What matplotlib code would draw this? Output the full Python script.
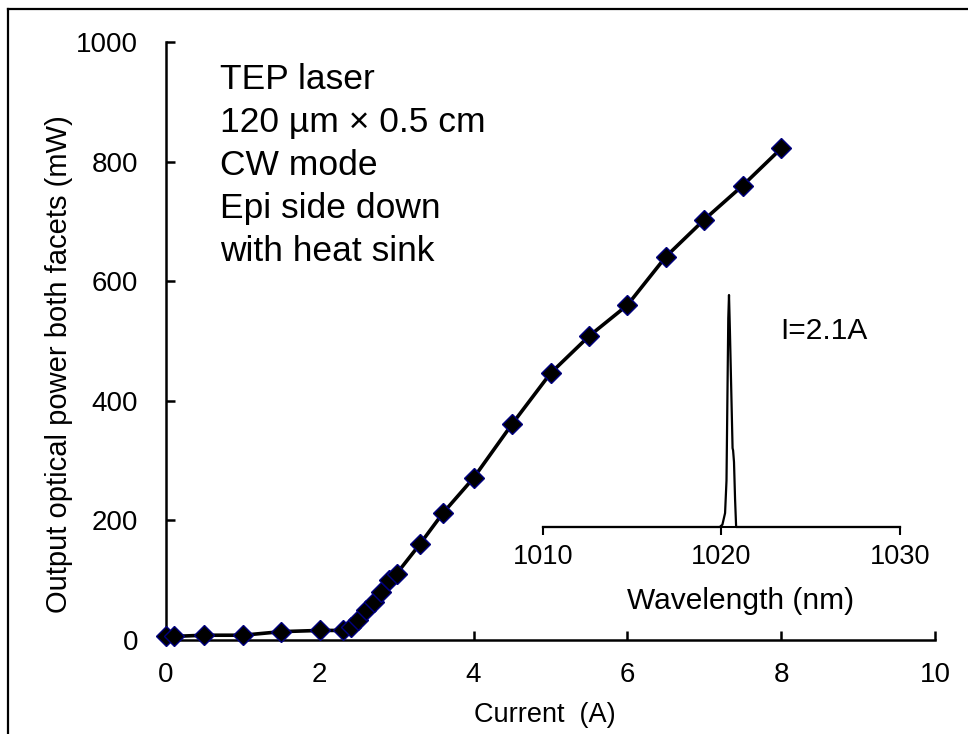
import matplotlib
matplotlib.use('Agg')
import matplotlib.pyplot as plt
from matplotlib.lines import Line2D

plt.rcParams['font.family'] = ['Liberation Sans', 'DejaVu Sans']

# L-I curve
current = [0, 0.1, 0.5, 1.0, 1.5, 2.0, 2.3, 2.4, 2.5, 2.6, 2.7, 2.8, 2.9, 3.0,
           3.3, 3.6, 4.0, 4.5, 5.0, 5.5, 6.0, 6.5, 7.0, 7.5, 8.0]
power = [6, 6, 8, 8, 14, 16, 16, 22, 33, 50, 64, 81, 100, 111,
         160, 212, 271, 361, 446, 508, 560, 641, 703, 760, 822]

# spectrum at I = 2.1 A (normalised intensity)
wavelength = [1010, 1019.9, 1020.05, 1020.2, 1020.28, 1020.38, 1020.42, 1020.47,
              1020.62, 1020.65, 1020.7, 1020.76, 1020.82, 1030]
intensity = [0, 0, 0.01, 0.06, 0.2, 0.9, 1.0, 0.85,
             0.34, 0.33, 0.28, 0.12, 0.0, 0]

x_ticks = [0, 2, 4, 6, 8, 10]
y_ticks = [0, 200, 400, 600, 800, 1000]
wl_ticks = [1010, 1020, 1030]
notes = ['TEP laser', '120 \u00b5m \u00d7 0.5 cm', 'CW mode', 'Epi side down', 'with heat sink']

W, H = 968, 734
fig = plt.figure(figsize=(W / 100, H / 100), dpi=100)

def px_axes(left, top, right, bottom):
    return fig.add_axes([left / W, 1 - bottom / H, (right - left) / W, (bottom - top) / H])

ax = px_axes(166, 42, 935, 640)
ax.plot(current, power, color='black', lw=2.6, marker='D', ms=10.5,
        mfc='black', mec='#000080', mew=1, clip_on=False, zorder=3)
ax.set_xlim(0, 10)
ax.set_ylim(0, 1000)
ax.set_xticks(x_ticks)
ax.set_yticks(y_ticks)
for s in ['top', 'right']:
    ax.spines[s].set_visible(False)
for s in ['left', 'bottom']:
    ax.spines[s].set_linewidth(1.8)
ax.tick_params(axis='both', direction='in', length=6.5, width=1.8, labelsize=20)
ax.tick_params(axis='y', pad=20)
ax.tick_params(axis='x', pad=16)
ax.set_xlabel('Current  (A)', fontsize=19.5)
ax.xaxis.set_label_coords(0.492, -0.103)
ax.set_ylabel('Output optical power both facets (mW)', fontsize=21)
ax.yaxis.set_label_coords(-0.121, 0.4615)

# annotation lines, baselines in pixels from top
for i, line in enumerate(notes):
    fig.text(220 / W, 1 - (89 + 43 * i) / H, line, fontsize=25.5,
             va='baseline', ha='left')

# inset spectrum
ins = px_axes(543, 295, 900, 527)
ins.patch.set_alpha(0)
ins.plot(wavelength, intensity, color='black', lw=1.6, clip_on=False)
ins.set_xlim(1010, 1030)
ins.set_ylim(0, 1)
ins.set_xticks(wl_ticks)
ins.set_yticks([])
for s in ['top', 'right', 'left']:
    ins.spines[s].set_visible(False)
ins.spines['bottom'].set_linewidth(1.5)
ins.tick_params(axis='x', direction='out', length=6, width=1.5, labelsize=19.5, pad=6)
ins.set_xlabel('Wavelength (nm)', fontsize=21.5)
ins.xaxis.set_label_coords(0.552, -0.26)
ins.text(1023.3, 0.81, 'I=2.1A', fontsize=21.5, va='baseline', ha='left')

# frame lines at top and left edges
fig.add_artist(Line2D([8 / W, 8 / W], [0, 1 - 9 / H], color='black', lw=1.6,
                      transform=fig.transFigure))
fig.add_artist(Line2D([8 / W, 1], [1 - 9 / H, 1 - 9 / H], color='black', lw=1.6,
                      transform=fig.transFigure))

fig.savefig('out.png', dpi=100)
